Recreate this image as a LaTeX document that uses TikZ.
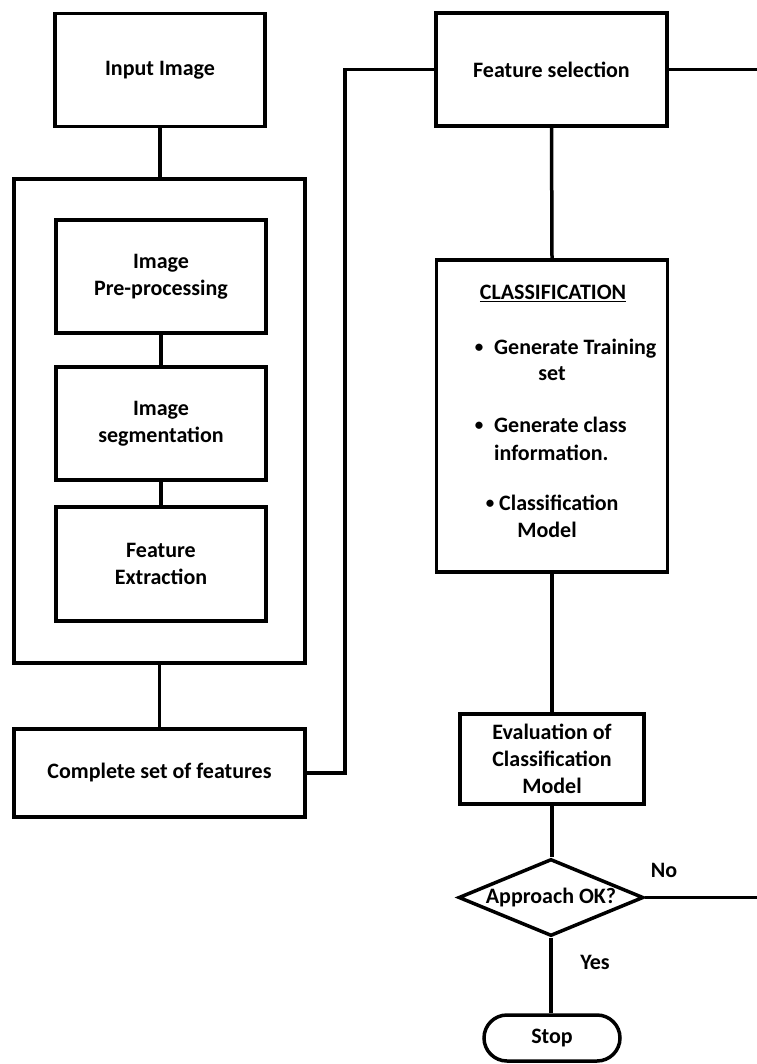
\documentclass[tikz,border=0pt]{standalone}
\usepackage{fontspec}
\setmainfont{Carlito}
\usetikzlibrary{shapes.geometric}
\begin{document}
\begin{tikzpicture}[x=1pt,y=-1pt,
  txt/.style={font=\bfseries\fontsize{22}{27}\selectfont, inner sep=0pt},
  bul/.style={font=\bfseries\fontsize{17}{20}\selectfont, inner sep=0pt},
  box/.style={txt, draw, line width=3.5pt, rectangle, align=center},
  line/.style={line width=3.5pt}]
\useasboundingbox[fill=white] (0,0) rectangle (756,1064);
% left column
\node[box, minimum width=210pt, minimum height=113pt] (inp) at (160,70) {Input Image};
\node[box, minimum width=291pt, minimum height=484pt] (outer) at (159.5,421) {};
\node[box, minimum width=210pt, minimum height=113pt] (pre) at (161,276.5) {Image\\Pre-processing};
\node[box, minimum width=210pt, minimum height=113pt] (seg) at (161,423.5) {Image\\segmentation};
\node[box, minimum width=210pt, minimum height=114pt] (fext) at (161,564) {Feature\\Extraction};
\node[box, minimum width=291pt, minimum height=88pt] (comp) at (159.5,773) {Complete set of features};
% right column
\node[box, minimum width=231pt, minimum height=113pt] (fsel) at (551.5,69.5) {Feature selection};
\node[box, minimum width=231pt, minimum height=312pt] (cls) at (552,416) {};
\node[txt, anchor=mid] (clsh) at (553,297) {\underline{CLASSIFICATION}};
\node[bul] (b1) at (479,348.5) {\textbullet};
\node[txt, anchor=mid west] (t1) at (494,352) {Generate Training};
\node[txt, anchor=mid] (t1b) at (552,378) {set};
\node[bul] (b2) at (479,426.5) {\textbullet};
\node[txt, anchor=mid west] (t2) at (494,430) {Generate class};
\node[txt, anchor=mid west] (t2b) at (494,458) {information.};
\node[bul] (b3) at (490,504.5) {\textbullet};
\node[txt, anchor=mid west] (t3) at (499,508) {Classification};
\node[txt, anchor=mid] (t3b) at (547,535) {Model};
\node[box, minimum width=184pt, minimum height=90pt] (eval) at (552,759) {Evaluation of\\Classification\\Model};
\node[draw, line width=3.5pt, diamond, inner sep=0pt, minimum width=185pt, minimum height=77pt] (dia) at (551,897.5) {};
\node[txt] (diat) at (551,897.5) {Approach OK?};
\node[box, rounded corners=23pt, minimum width=136pt, minimum height=46pt] (stop) at (552,1038) {Stop};
\node[txt, anchor=mid] (no) at (664,875) {No};
\node[txt, anchor=mid] (yes) at (595,967) {Yes};
\coordinate (bend) at (345,773);
\coordinate (re1) at (760,69.5);
\coordinate (re2) at (760,897.5);
% connectors
\draw[line] (inp.south) -- (inp.south |- outer.north);
\draw[line] (pre.south) -- (seg.north);
\draw[line] (seg.south) -- (fext.north);
\draw[line] (outer.south) -- (comp.north);
\draw[line] (comp.east) -- (bend) |- (fsel.west);
\draw[line] (fsel.east) -- (re1);
\draw[line] (fsel.south) -- (cls.north);
\draw[line] (cls.south) -- (eval.north);
\draw[line] (eval.south) -- (eval.south |- dia.north);
\draw[line] (dia.east) -- (re2);
\draw[line] (dia.south) -- (dia.south |- stop.north);
\end{tikzpicture}
\end{document}
